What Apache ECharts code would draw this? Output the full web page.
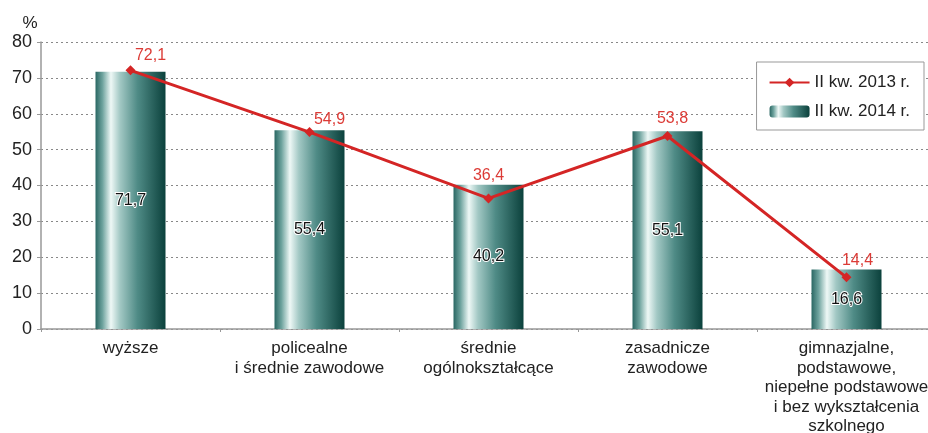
<!DOCTYPE html>
<html><head><meta charset="utf-8">
<script src="https://cdn.jsdelivr.net/npm/echarts@6/dist/echarts.min.js"></script>
<style>html,body{margin:0;padding:0;background:#fff}#c{width:928px;height:433px}</style>
</head><body><div id="c"></div>
<script>
const categories = ['wyższe','policealne\ni średnie zawodowe','średnie\nogólnokształcące','zasadnicze\nzawodowe','gimnazjalne,\npodstawowe,\nniepełne podstawowe\ni bez wykształcenia\nszkolnego'];
const values2013 = [72.1, 54.9, 36.4, 53.8, 14.4];
const values2014 = [71.7, 55.4, 40.2, 55.1, 16.6];
const labelOffsets2013 = [[20,2],[20,5],[0,-6],[5,0],[11,0]];
const yTicks = {min:0, max:80, interval:10};

const fmt = v => String(v).replace('.', ',');
const barGrad = new echarts.graphic.LinearGradient(0,0,1,0,[
  {offset:0, color:'#2a6763'},
  {offset:0.1, color:'#6ea39e'},
  {offset:0.22, color:'#eef8f6'},
  {offset:0.35, color:'#a2c8c4'},
  {offset:0.6, color:'#4f8b86'},
  {offset:1, color:'#0b413c'}
]);
const chart = echarts.init(document.getElementById('c'));
chart.setOption({
  animation:false,
  textStyle:{fontFamily:'Liberation Sans, Arial, sans-serif'},
  grid:{left:41, top:42, height:287, width:895, containLabel:false, outerBoundsMode:'none'},
  legend:{
    orient:'vertical', right:4, top:62,
    backgroundColor:'#fff', borderColor:'#999', borderWidth:1,
    padding:[12,14,10,12], itemGap:12, itemWidth:40, itemHeight:12,
    textStyle:{fontSize:17, color:'#222', fontFamily:'Liberation Sans, Arial, sans-serif'},
    data:['II kw. 2013 r.','II kw. 2014 r.']
  },
  xAxis:{
    type:'category', data:categories,
    axisLine:{lineStyle:{color:'#999', width:1.5}},
    axisTick:{show:true, length:3, lineStyle:{color:'#999'}},
    axisLabel:{interval:0, fontSize:17, lineHeight:19.5, color:'#222', margin:10}
  },
  yAxis:{
    type:'value', min:yTicks.min, max:yTicks.max, interval:yTicks.interval,
    name:'%', nameLocation:'end', nameGap:10,
    nameTextStyle:{fontSize:17, color:'#222', align:'center', padding:[0,22,0,0]},
    axisLine:{show:true, lineStyle:{color:'#999', width:1.5}},
    axisTick:{show:true, length:4, lineStyle:{color:'#999'}},
    axisLabel:{fontSize:18, color:'#222', margin:9},
    splitLine:{lineStyle:{color:'#888', type:[2,3], width:1}}
  },
  series:[
    {
      name:'II kw. 2014 r.', type:'bar', barWidth:70,
      data:values2014,
      itemStyle:{color:barGrad},
      label:{show:true, position:'inside', fontSize:16, color:'#111',
        textBorderColor:'#fff', textBorderWidth:2, formatter:p=>fmt(p.value)},
      z:2
    },
    {
      name:'II kw. 2013 r.', type:'line',
      data:values2013.map((v,i)=>({value:v, label:{offset:labelOffsets2013[i]}})),
      symbol:'diamond', symbolSize:10,
      lineStyle:{color:'#d42525', width:3},
      itemStyle:{color:'#d42525'},
      label:{show:true, position:'top', distance:4, fontSize:16, color:'#dc3b36', formatter:p=>fmt(p.value)},
      z:5
    }
  ]
});
</script></body></html>
